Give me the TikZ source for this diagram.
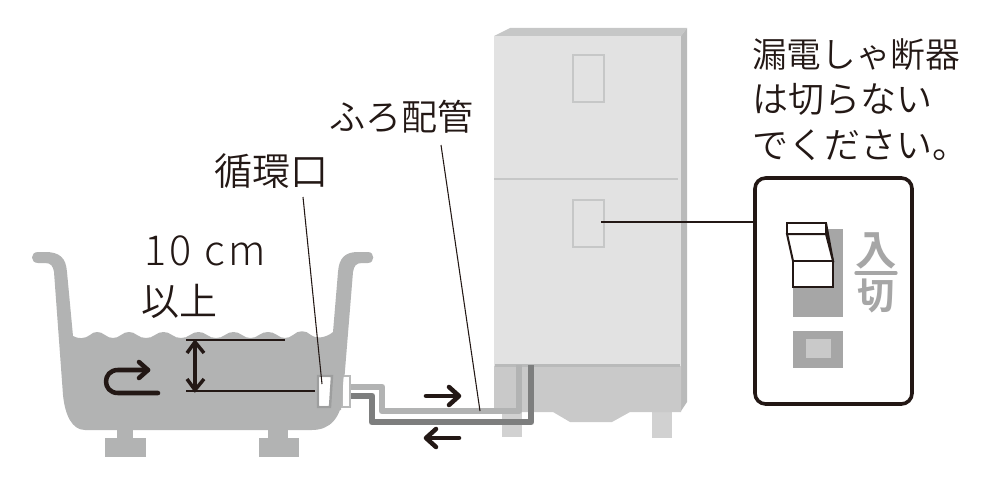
\documentclass[tikz,border=0pt]{standalone}
\usepackage{fontspec}
\setmainfont{Noto Sans CJK JP DemiLight}
\newfontfamily\boldcjk{Noto Sans CJK JP Bold}
\newfontfamily\thincjk{Noto Sans CJK JP Light}
\definecolor{tub}{HTML}{B2B3B3}
\definecolor{darkpipe}{HTML}{7D7E7E}
\definecolor{front}{HTML}{E2E2E2}
\definecolor{lower}{HTML}{C9C9C9}
\definecolor{side}{HTML}{B9BABA}
\definecolor{topface}{HTML}{C6C7C7}
\definecolor{ink}{HTML}{231815}
\definecolor{panelgrey}{HTML}{A6A6A6}
\tikzset{
  x=0.75pt,y=-0.75pt,
  label text/.style={inner sep=0pt,anchor=west,font=\fontsize{27}{30}\selectfont,text=ink},
  leader/.style={draw=ink,line width=0.8pt},
  flowarrow/.style={draw=ink,line width=3.4pt,line cap=round,line join=round},
  dimarrow/.style={draw=ink,line width=2.6pt,line join=miter},
  dimline/.style={draw=ink,line width=1.7pt},
  pipe/.style={line width=5pt,line join=round},
  slot/.style={draw=topface,line width=1.8pt},
  toggle/.style={draw=ink,line width=1.5pt,fill=white,line join=miter}
}
\begin{document}
\begin{tikzpicture}
\useasboundingbox (0,0) rectangle (996,478);
% unit legs
\fill[lower!85!white] (502,400) rectangle (522,437);
\fill[lower!85!white] (652,400) rectangle (672,438);
% unit body
\fill[topface] (494,36) -- (510,28) -- (687,28) -- (681,36) -- cycle;
\fill[side] (681,36) -- (687,28) -- (687,402) -- (681,411) -- cycle;
\fill[front] (494,36) rectangle (681,366);
\fill[lower] (494,366) -- (681,366) -- (681,412) -- (630,412) -- (612,422) -- (570,422) -- (553,412) -- (494,412) -- cycle;
\draw[topface,line width=1.8pt] (494,179) -- (678,179);
\draw[side,line width=1.8pt] (495,365.5) -- (680,365.5);
\draw[slot] (573,55) rectangle (604,102);
\draw[slot] (573,200) rectangle (604,247);
% bathtub
\fill[tub] (38,252) -- (45,252) .. controls (60,252) and (66,258) .. (67,272)
  -- (73,336)
  .. controls (78,339) and (85,339) .. (90,335) .. controls (94,331) and (100,331) .. (105,335)
  .. controls (110,339) and (116,339) .. (121,335) .. controls (126,331) and (132,331) .. (137,335)
  .. controls (142,339) and (150,339) .. (155,335) .. controls (160,331) and (167,331) .. (172,335)
  .. controls (177,339) and (185,339) .. (190,335) .. controls (195,331) and (202,331) .. (207,335)
  .. controls (212,339) and (220,339) .. (225,335) .. controls (230,331) and (237,331) .. (242,335)
  .. controls (247,339) and (254,339) .. (259,335) .. controls (264,331) and (272,331) .. (277,335)
  .. controls (282,339) and (288,339) .. (293,335) .. controls (298,330) and (306,330) .. (311,335)
  .. controls (316,339) and (326,338) .. (333,332)
  -- (338,272) .. controls (339,258) and (345,252) .. (358,252) -- (368,252)
  .. controls (375,252) and (375,263) .. (368,263) -- (362,263)
  .. controls (356,263) and (354,266) .. (353,272)
  -- (343,395) .. controls (341,418) and (330,430) .. (312,430) -- (85,430)
  .. controls (72,430) and (65,415) .. (63,395)
  -- (54,272) .. controls (53,266) and (51,263) .. (45,263) -- (38,263)
  .. controls (30,263) and (30,252) .. (38,252) -- cycle;
\fill[tub] (117,430) rectangle (133,438);
\fill[tub] (105,438) rectangle (146,457);
\fill[tub] (268,430) rectangle (288,438);
\fill[tub] (259,438) rectangle (299,457);
% pipes
\coordinate (lightA) at (350,387);
\coordinate (lightB) at (519,365);
\coordinate (darkA) at (350,396);
\coordinate (darkB) at (531,365);
\draw[pipe,tub] (lightA) -- (382,387) -- (382,411) -- (519,411) -- (lightB);
\draw[pipe,darkpipe] (darkA) -- (372,396) -- (372,422) -- (531,422) -- (darkB);
% circulation port
\draw[fill=white,draw=side,line width=1.8pt] (342,376) rectangle (350,407);
\fill[tub] (331,372) -- (344,372) -- (341,410) -- (331,410) -- cycle;
\draw[draw=side!85!black,line width=1.8pt,fill=white] (318,376) -- (332,376) -- (330,407) -- (318,407) -- cycle;
\fill[white] (319.5,377.5) -- (329,377.5) -- (327.5,405.5) -- (319.5,405.5) -- cycle;
% dimension
\draw[dimline] (186,340) -- (285,340);
\draw[dimline] (186,391) -- (315,391);
\draw[dimarrow] (195,342) -- (195,390);
\draw[dimarrow] (187,353) -- (195,342) -- (204,353);
\draw[dimarrow] (187,379) -- (195,390) -- (204,379);
% U-turn arrow
\draw[flowarrow] (158,393) -- (118,393) .. controls (102,393) and (102,370) .. (118,370) -- (148,370);
\draw[flowarrow] (139,362) -- (148,370) -- (139,378);
% flow arrows
\draw[flowarrow] (426,396) -- (458,396);
\draw[flowarrow] (449,387) -- (459,396) -- (449,405);
\draw[flowarrow] (459,438) -- (427,438);
\draw[flowarrow] (436,429) -- (426,438) -- (436,447);
% labels
\node[label text] (furo) at (329,117) {ふろ配管};
\node[label text,font=\fontsize{28.5}{30}\selectfont] (junkan) at (214,171) {循環口};
\node[label text,font=\thincjk\fontsize{31}{32}\selectfont] (ten) at (144,251) {\addfontfeature{LetterSpace=8}10 cm};
\node[label text,font=\fontsize{28.5}{30}\selectfont] (ijo) at (141,301) {以上};
\node[label text,font=\fontsize{26}{30}\selectfont] (warn1) at (752,55) {漏電しゃ断器};
\node[label text] (warn2) at (752,99) {は切らない};
\node[label text] (warn3) at (752,145) {でください。};
% breaker panel
\draw[draw=ink,line width=2.7pt,fill=white,rounded corners=8] (755,178) rectangle (912,404);
\fill[panelgrey] (793,229) rectangle (843,317);
\fill[panelgrey] (793,331) rectangle (843,368);
\fill[lower] (806,339) rectangle (831,358);
\draw[toggle] (826,223) -- (833,261) -- (826,261) -- cycle;
\draw[toggle] (787,234) -- (826,234) -- (833,261) -- (793,261) -- cycle;
\draw[toggle] (787,223) rectangle (826,234);
\draw[toggle] (793,261) -- (833,261) -- (833,287) -- (793,287) -- cycle;
\node[inner sep=0pt,font=\boldcjk\fontsize{31}{31}\selectfont,text=panelgrey] (iri) at (876,251) {入};
\node[inner sep=0pt,font=\boldcjk\fontsize{28}{28}\selectfont,text=panelgrey] (kiri) at (876,296) {切};
\draw[panelgrey,line width=2.5pt,line cap=round] (856,273) -- (896,273);
% leaders
\coordinate (furoEnd) at (441,145);
\coordinate (furoTip) at (480,411);
\coordinate (junkanEnd) at (303,197);
\coordinate (junkanTip) at (322,384);
\coordinate (slotTip) at (601,222);
\coordinate (panelEdge) at (755,222);
\draw[leader] (furoEnd) -- (furoTip);
\draw[leader] (junkanEnd) -- (junkanTip);
\draw[leader] (slotTip) -- (panelEdge);
\end{tikzpicture}
\end{document}
